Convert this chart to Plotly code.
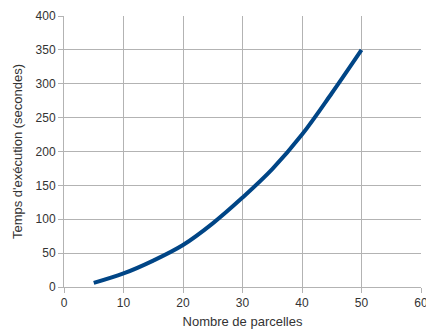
import plotly.graph_objects as go

GRID = "#b3b3b3"
LINE = "#004586"
TEXT = "#333333"

parcelles = [5, 10, 15, 20, 25, 30, 35, 40, 45, 50]
temps = [6, 20, 39, 62, 94, 132, 174, 225, 286, 350]

x_ticks = [0, 10, 20, 30, 40, 50, 60]
y_ticks = [0, 50, 100, 150, 200, 250, 300, 350, 400]

fig = go.Figure(
    go.Scatter(
        x=parcelles,
        y=temps,
        mode="lines",
        line=dict(color=LINE, width=4, shape="spline", smoothing=1),
        hoverinfo="skip",
    )
)

axis_common = dict(
    showgrid=True,
    gridcolor=GRID,
    gridwidth=1,
    zeroline=False,
    showline=True,
    linecolor=GRID,
    linewidth=1,
    ticks="outside",
    ticklen=5,
    tickcolor=GRID,
    automargin=False,
    ticklabeloverflow="allow",
    tickfont=dict(family="Liberation Sans, Arial, sans-serif", size=12, color=TEXT),
)

fig.update_layout(
    width=426,
    height=331,
    paper_bgcolor="white",
    plot_bgcolor="white",
    showlegend=False,
    margin=dict(l=64, r=5, t=16, b=44),
    font=dict(family="Liberation Sans, Arial, sans-serif", color=TEXT, size=12),
    xaxis=dict(
        range=[0, 60],
        tickvals=x_ticks,
        title=dict(text="Nombre de parcelles", font=dict(size=13, color=TEXT), standoff=7),
        **axis_common,
    ),
    yaxis=dict(
        range=[0, 400],
        tickvals=y_ticks,
        title=dict(text="Temps d'exécution (secondes)", font=dict(size=13, color=TEXT), standoff=10),
        **axis_common,
    ),
)

# drop the default 8px body margin so the figure fills the window exactly
fig.write_html(
    "out.html",
    config={"displayModeBar": False},
    post_script="document.body.style.margin='0';document.body.style.overflow='hidden';",
)
